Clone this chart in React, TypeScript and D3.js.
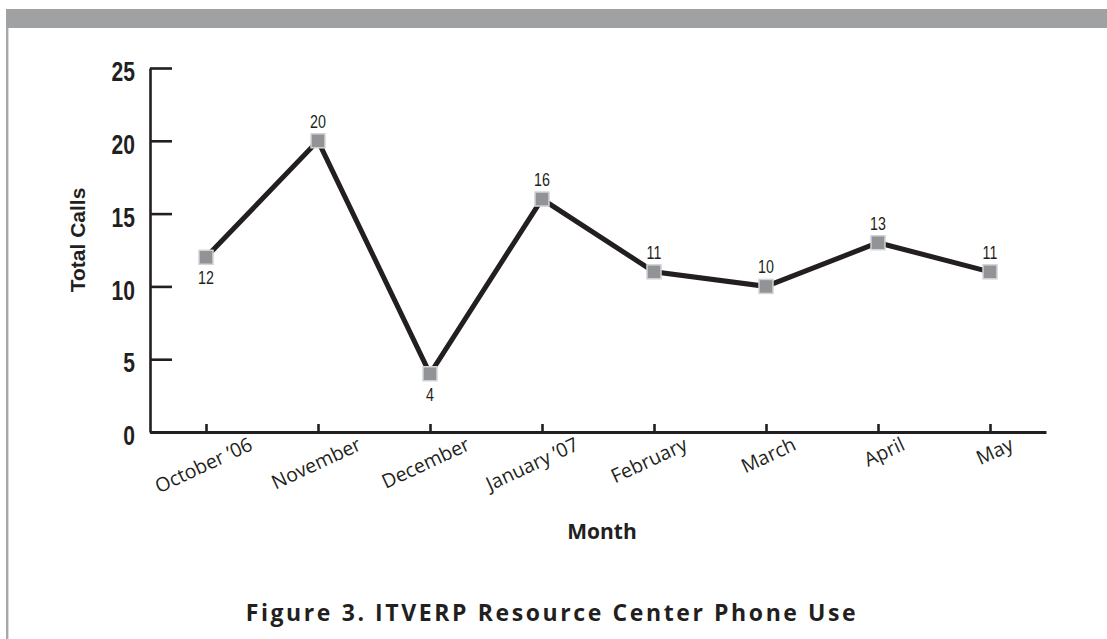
import React, { useEffect, useRef } from 'react';
import * as d3 from 'd3';

// values
const months = ['October \u201906', 'November', 'December', 'January \u201907', 'February', 'March', 'April', 'May'];
const totalCalls = [12, 20, 4, 16, 11, 10, 13, 11];
const labelSide = ['below', 'above', 'below', 'above', 'above', 'above', 'above', 'above'];
const yTicks = [0, 5, 10, 15, 20, 25];

const INK = '#231f20';
const SANS = '"Liberation Sans", Arial, sans-serif';
const HUMANIST = '"Open Sans", Lato, sans-serif';
const SQUEEZE = 0.78; // no condensed face installed, so squeeze the digits

function PhoneUseChart() {
  const svgRef = useRef<SVGSVGElement | null>(null);

  useEffect(() => {
    if (!svgRef.current) return;
    const svg = d3.select(svgRef.current);
    svg.selectAll('*').remove();

    // frame: grey band on top and grey rule down the left
    svg.append('rect').attr('x', 6).attr('y', 9).attr('width', 1101).attr('height', 19).attr('fill', '#a0a1a3');
    svg.append('rect').attr('x', 6).attr('y', 28).attr('width', 2.4).attr('height', 611).attr('fill', '#a7a8aa');

    const x = d3.scalePoint<string>().domain(months).range([150, 1046]).padding(0.5);
    const xLabel = d3.scalePoint<string>().domain(months).range([251, 1012]);
    const y = d3.scaleLinear().domain([0, 25]).range([432, 68]);

    // y axis, ticks pointing into the plot
    const gy = svg.append('g').attr('transform', 'translate(150,0)')
      .call(d3.axisLeft(y).tickValues(yTicks).tickSizeInner(-22).tickSizeOuter(0).tickPadding(15).tickFormat(d3.format('d')));
    gy.select('.domain').attr('stroke', INK).attr('stroke-width', 2.6);
    gy.selectAll('.tick line').attr('stroke', INK).attr('stroke-width', 2.6);
    gy.selectAll('.tick text')
      .attr('fill', INK)
      .attr('font-family', SANS)
      .attr('font-weight', 'bold')
      .attr('font-size', 27)
      .attr('dy', '0.36em')
      .attr('x', -15 / SQUEEZE)
      .attr('y', 3)
      .attr('transform', `scale(${SQUEEZE},1)`);

    // x axis, short ticks pointing up
    const gx = svg.append('g').attr('transform', 'translate(0,432)')
      .call(d3.axisBottom(x).tickSizeInner(-8).tickSizeOuter(0).tickFormat(() => ''));
    gx.select('.domain').attr('stroke', INK).attr('stroke-width', 3);
    gx.selectAll('.tick line').attr('stroke', INK).attr('stroke-width', 2.6);

    svg.append('g').selectAll('text')
      .data(months)
      .join('text')
      .attr('transform', d => `translate(${xLabel(d)},443) rotate(-25)`)
      .attr('text-anchor', 'end')
      .attr('dy', '0.35em')
      .attr('font-family', HUMANIST)
      .attr('font-size', 19.5)
      .attr('fill', INK)
      .text(d => d);

    // axis titles
    svg.append('text')
      .attr('transform', 'translate(85,240) rotate(-90)')
      .attr('text-anchor', 'middle')
      .attr('font-family', SANS)
      .attr('font-weight', 'bold')
      .attr('font-size', 21)
      .attr('fill', INK)
      .text('Total Calls');

    svg.append('text')
      .attr('x', 602).attr('y', 539)
      .attr('text-anchor', 'middle')
      .attr('font-family', HUMANIST)
      .attr('font-weight', 'bold')
      .attr('font-size', 21)
      .attr('fill', INK)
      .text('Month');

    // the line
    const line = d3.line<number>()
      .x((d, i) => x(months[i]) as number)
      .y(d => y(d));

    svg.append('path')
      .datum(totalCalls)
      .attr('fill', 'none')
      .attr('stroke', INK)
      .attr('stroke-width', 5)
      .attr('stroke-linejoin', 'miter')
      .attr('d', line);

    svg.append('g').selectAll('rect')
      .data(totalCalls)
      .join('rect')
      .attr('x', (d, i) => (x(months[i]) as number) - 7)
      .attr('y', d => y(d) - 7)
      .attr('width', 14)
      .attr('height', 14)
      .attr('fill', '#929397')
      .attr('stroke', '#d2d3d5')
      .attr('stroke-width', 1.5);

    svg.append('g').selectAll('text')
      .data(totalCalls)
      .join('text')
      .attr('transform', (d, i) =>
        `translate(${x(months[i])},${y(d) + (labelSide[i] === 'above' ? -13 : 27)}) scale(0.75,1)`)
      .attr('text-anchor', 'middle')
      .attr('font-family', SANS)
      .attr('font-size', 19)
      .attr('fill', INK)
      .text(d => d);

    // caption
    svg.append('text')
      .attr('x', 552).attr('y', 621)
      .attr('text-anchor', 'middle')
      .attr('font-family', HUMANIST)
      .attr('font-weight', 'bold')
      .attr('font-size', 23)
      .attr('letter-spacing', 2.6)
      .attr('fill', INK)
      .text('Figure 3. ITVERP Resource Center Phone Use');
  }, []);

  return <svg ref={svgRef} width={1107} height={639} style={{ display: 'block' }} />;
}

export default function App() {
  return (
    <div style={{ position: 'absolute', left: 0, top: 0, width: 1107, height: 639, background: '#fff' }}>
      <PhoneUseChart />
    </div>
  );
}
